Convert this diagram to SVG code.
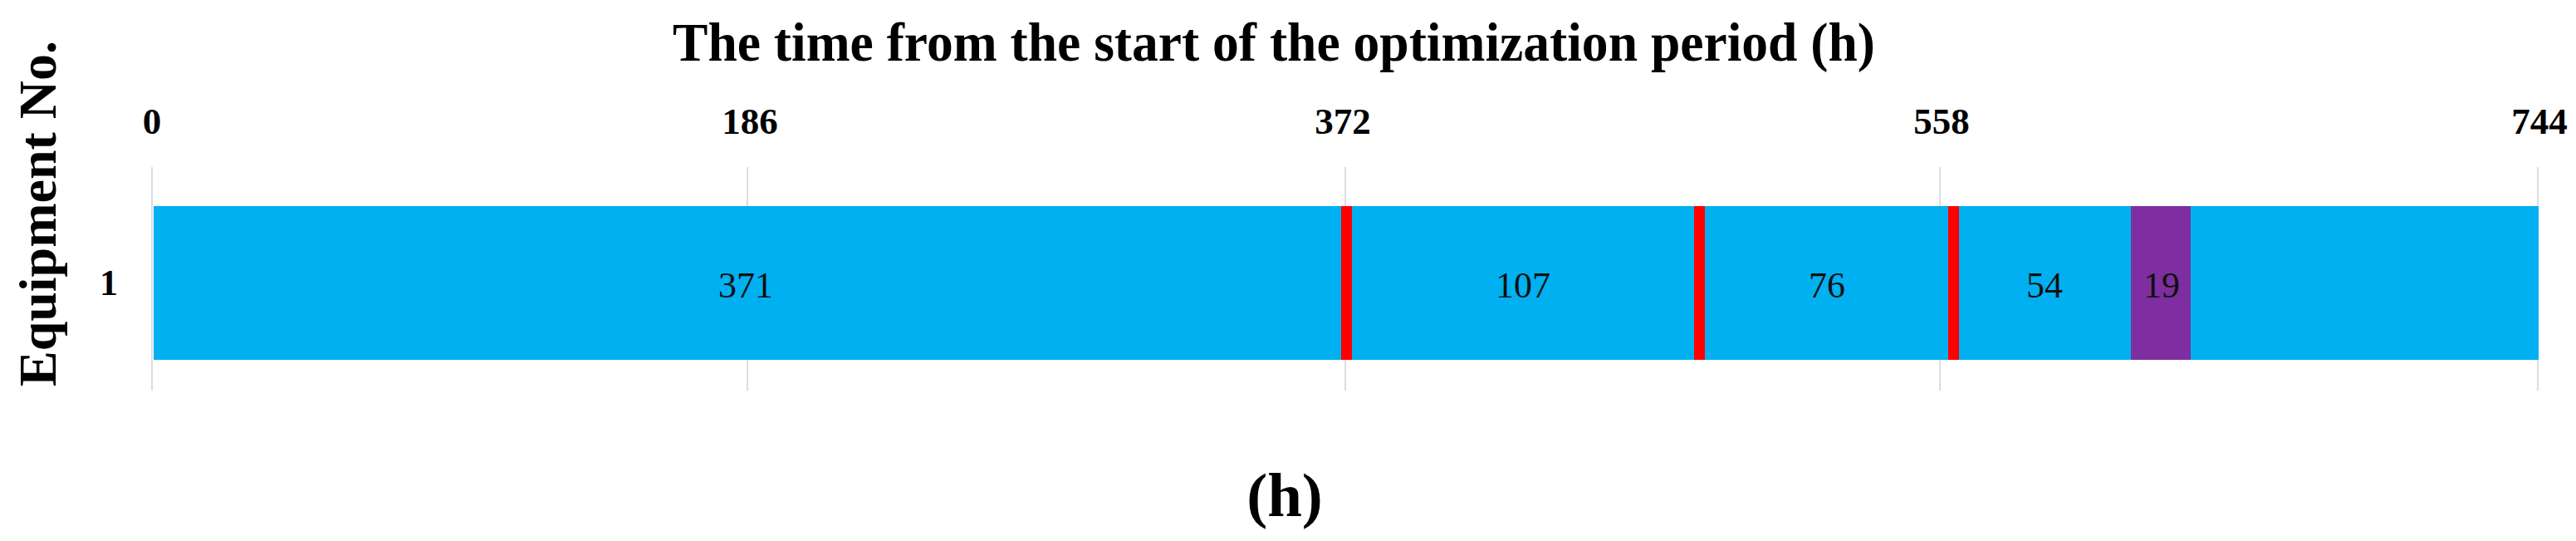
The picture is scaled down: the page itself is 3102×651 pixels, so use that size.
<svg xmlns="http://www.w3.org/2000/svg" width="3102" height="651" viewBox="0 0 3102 651">
<style>
.b{font-family:"Liberation Serif","Times New Roman",serif;font-weight:bold;fill:#000}
.r{font-family:"Liberation Serif","Times New Roman",serif;fill:#111}
.tick{font-size:45px;text-anchor:middle}
.seg{font-size:44px;text-anchor:middle}
.grid{stroke:#dcdce4;stroke-width:2}
.blue{fill:#00B0F0}
.red{fill:#FF0000}
.purple{fill:#7E2EA1}
</style>
<rect width="3102" height="651" fill="#fff"/>
<g id="title">
<text class="b" x="810" y="73" font-size="66" textLength="1448" lengthAdjust="spacingAndGlyphs">The time from the start of the optimization period (h)</text>
</g>
<g id="ylabel">
<text class="b" font-size="64" text-anchor="middle" transform="translate(67,257) rotate(-90)">Equipment No.</text>
</g>
<g id="gridlines">
<line class="grid" x1="183" y1="201" x2="183" y2="470"/>
<line class="grid" x1="900" y1="201" x2="900" y2="470"/>
<line class="grid" x1="1620" y1="201" x2="1620" y2="470"/>
<line class="grid" x1="2336" y1="201" x2="2336" y2="470"/>
<line class="grid" x1="3056" y1="201" x2="3056" y2="470"/>
</g>
<g id="ticks">
<text class="b tick" x="183" y="161">0</text>
<text class="b tick" x="903" y="161">186</text>
<text class="b tick" x="1617" y="161">372</text>
<text class="b tick" x="2338" y="161">558</text>
<text class="b tick" x="3058" y="161">744</text>
</g>
<g id="row-label">
<text class="b" x="131" y="355" font-size="44" text-anchor="middle">1</text>
</g>
<g id="bar">
<rect class="blue" x="185" y="248" width="2872" height="185"/>
<rect class="red" x="1615" y="248" width="13" height="185"/>
<rect class="red" x="2040" y="248" width="13" height="185"/>
<rect class="red" x="2346" y="248" width="13" height="185"/>
<rect class="purple" x="2566" y="248" width="72" height="185"/>
</g>
<g id="segment-labels">
<text class="r seg" x="898" y="358">371</text>
<text class="r seg" x="1834" y="358">107</text>
<text class="r seg" x="2200" y="358">76</text>
<text class="r seg" x="2462" y="358">54</text>
<text class="r seg" x="2603" y="358">19</text>
</g>
<g id="caption">
<text class="b" x="1547" y="621" font-size="75" text-anchor="middle">(h)</text>
</g>
<g id="connectors"/>
</svg>
